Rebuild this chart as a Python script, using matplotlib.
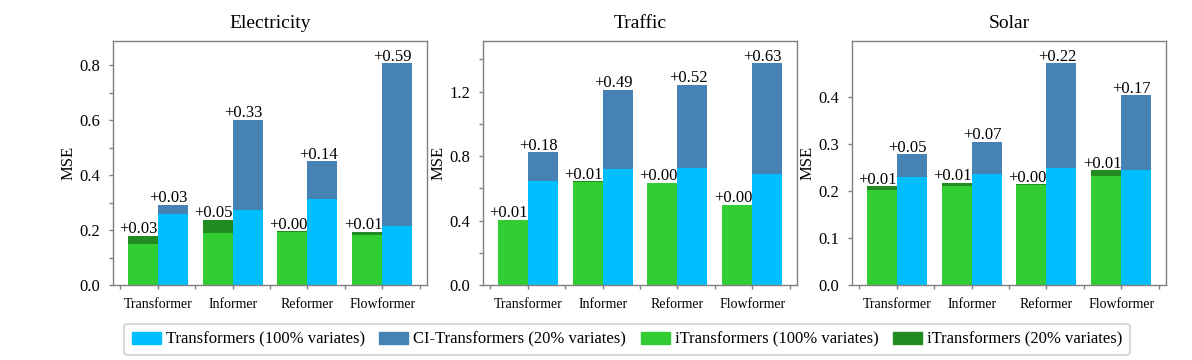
import matplotlib
matplotlib.use("Agg")
import matplotlib.pyplot as plt
import numpy as np
from matplotlib.transforms import ScaledTranslation
from matplotlib.patches import Patch

plt.rcParams['font.family'] = ['Liberation Serif', 'DejaVu Serif']

models = ["Transformer", "Informer", "Reformer", "Flowformer"]
datasets = ["Electricity", "Traffic", "Solar"]

# iTransformers (100% variates) MSE and top of iTransformers (20% variates) bar
elec_itr_full = [0.148, 0.190, 0.192, 0.182]
elec_itr_part = [0.178, 0.237, 0.195, 0.194]
elec_itr_labels = ["+0.03", "+0.05", "+0.00", "+0.01"]
# Transformers (100% variates) MSE and top of CI-Transformers (20% variates) bar
elec_tr_full = [0.257, 0.272, 0.312, 0.214]
elec_tr_part = [0.292, 0.601, 0.450, 0.807]
elec_tr_labels = ["+0.03", "+0.33", "+0.14", "+0.59"]

traf_itr_full = [0.402, 0.639, 0.631, 0.495]
traf_itr_part = [0.406, 0.643, 0.634, 0.497]
traf_itr_labels = ["+0.01", "+0.01", "+0.00", "+0.00"]
traf_tr_full = [0.645, 0.718, 0.724, 0.689]
traf_tr_part = [0.823, 1.210, 1.241, 1.377]
traf_tr_labels = ["+0.18", "+0.49", "+0.52", "+0.63"]

solar_itr_full = [0.203, 0.210, 0.212, 0.233]
solar_itr_part = [0.210, 0.217, 0.214, 0.244]
solar_itr_labels = ["+0.01", "+0.01", "+0.00", "+0.01"]
solar_tr_full = [0.229, 0.237, 0.249, 0.244]
solar_tr_part = [0.278, 0.305, 0.472, 0.404]
solar_tr_labels = ["+0.05", "+0.07", "+0.22", "+0.17"]

panels = [
    (elec_itr_full, elec_itr_part, elec_itr_labels, elec_tr_full, elec_tr_part, elec_tr_labels),
    (traf_itr_full, traf_itr_part, traf_itr_labels, traf_tr_full, traf_tr_part, traf_tr_labels),
    (solar_itr_full, solar_itr_part, solar_itr_labels, solar_tr_full, solar_tr_part, solar_tr_labels),
]
major_ticks = [
    [0.0, 0.2, 0.4, 0.6, 0.8],
    [0.0, 0.4, 0.8, 1.2],
    [0.0, 0.1, 0.2, 0.3, 0.4],
]
minor_ticks = [
    [0.1, 0.3, 0.5, 0.7],
    [0.2, 0.6, 1.0, 1.4],
    [],
]
major_labels = [
    ["0.0", "0.2", "0.4", "0.6", "0.8"],
    ["0.0", "0.4", "0.8", "1.2"],
    ["0.0", "0.1", "0.2", "0.3", "0.4"],
]

C_TR = "#00BFFF"
C_CI = "#4682B4"
C_IT = "#32CD32"
C_IT20 = "#228B22"
GRAY = "#808080"

fig = plt.figure(figsize=(11.92, 3.6), dpi=100)
lefts = [113, 483, 852]
width_px = 314
bottom = 1 - 285 / 360
height = (285 - 41) / 360

x = np.arange(len(models))
w = 0.4

for i, (itf, itp, itl, trf, trp, trl) in enumerate(panels):
    ax = fig.add_axes([lefts[i] / 1192, bottom, width_px / 1192, height])
    itf = np.array(itf); itp = np.array(itp)
    trf = np.array(trf); trp = np.array(trp)
    ax.bar(x - w / 2, itf, w, color=C_IT)
    ax.bar(x - w / 2, itp - itf, w, bottom=itf, color=C_IT20)
    ax.bar(x + w / 2, trf, w, color=C_TR)
    ax.bar(x + w / 2, trp - trf, w, bottom=trf, color=C_CI)
    for j in range(len(models)):
        ax.annotate(itl[j], (x[j] - w / 2, itp[j]), xytext=(-3, -1),
                    textcoords="offset points", ha="center", va="bottom", fontsize=12)
        ax.annotate(trl[j], (x[j] + w / 2, trp[j]), xytext=(-3, -1),
                    textcoords="offset points", ha="center", va="bottom", fontsize=12)
    ymax = max(trp.max(), itp.max()) * 1.1
    ax.set_ylim(0, ymax)
    ax.set_xlim(-0.6, 3.6)
    ax.set_yticks(major_ticks[i])
    ax.set_yticklabels(major_labels[i], fontsize=12)
    ax.set_yticks(minor_ticks[i], minor=True)
    ax.set_xticks(x)
    ax.set_xticklabels(models, fontsize=10)
    ax.set_xticks(np.arange(-0.5, 4.0, 1.0), minor=True)
    for lab in ax.get_xticklabels():
        lab.set_transform(lab.get_transform() + ScaledTranslation(4 / 100, 0, fig.dpi_scale_trans))
    ax.tick_params(axis="both", which="both", color=GRAY, length=3, width=1)
    ax.tick_params(axis="y", which="major", pad=6)
    ax.tick_params(axis="x", which="major", pad=6)
    for sp in ax.spines.values():
        sp.set_color(GRAY)
        sp.set_linewidth(1)
    ax.set_ylabel("MSE", fontsize=12, labelpad=2)
    ax.set_title(datasets[i], fontsize=14, pad=9)

handles = [
    Patch(color=C_TR, label="Transformers (100% variates)"),
    Patch(color=C_CI, label="CI-Transformers (20% variates)"),
    Patch(color=C_IT, label="iTransformers (100% variates)"),
    Patch(color=C_IT20, label="iTransformers (20% variates)"),
]
leg = fig.legend(handles=handles, loc="center", bbox_to_anchor=(627 / 1192, 1 - 339.5 / 360),
                 ncol=4, fontsize=12, frameon=True, handlelength=1.75, handletextpad=0.3,
                 columnspacing=0.85, borderpad=0.45, fancybox=True)
leg.get_frame().set_edgecolor("#d0d0d0")
leg.get_frame().set_linewidth(1.5)

fig.savefig("out.png", dpi=100)
